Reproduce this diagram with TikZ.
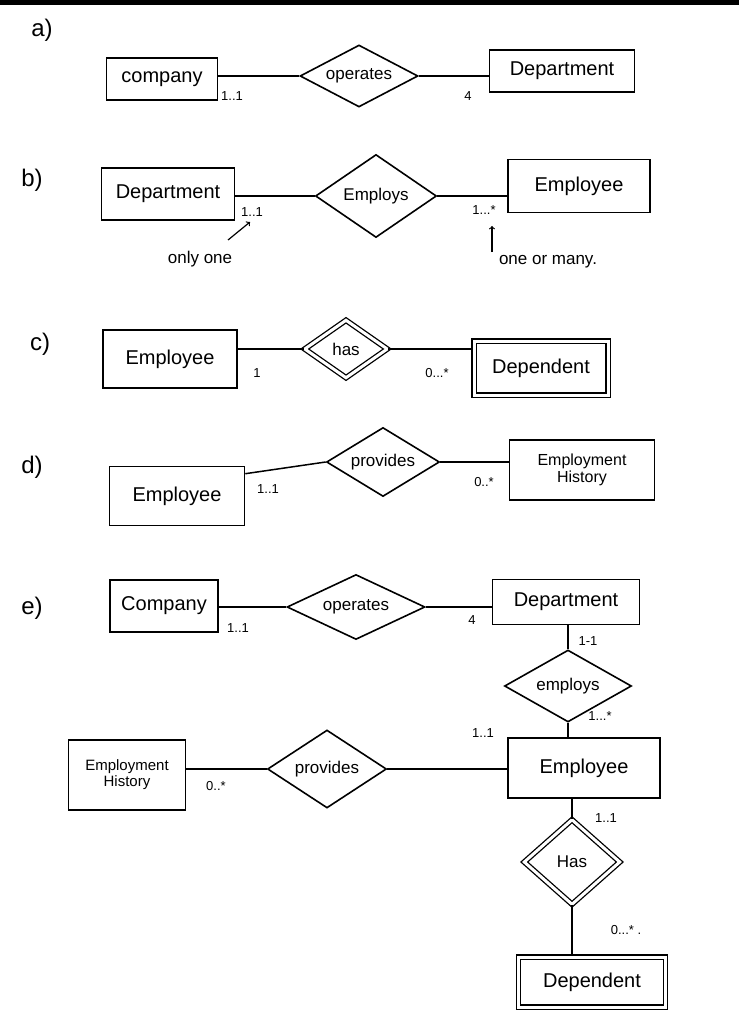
\documentclass[tikz,border=0pt]{standalone}
\usepackage{fontspec}
\setmainfont{Liberation Sans}
\usetikzlibrary{shapes.geometric}
\begin{document}
\begin{tikzpicture}[x=1pt,y=-1pt,
  ent/.style={draw, line width=1.6pt, inner sep=0pt, align=center, font=\fontsize{20}{22}\selectfont},
  rel/.style={draw, diamond, aspect=2, line width=1.6pt, inner sep=0pt, font=\fontsize{17}{19}\selectfont},
  wk/.style={double, double distance=3pt, line width=1.3pt},
  lab/.style={inner sep=1pt, font=\fontsize{13}{15}\selectfont},
  note/.style={inner sep=1pt, font=\fontsize{17}{19}\selectfont},
  part/.style={inner sep=0pt, font=\fontsize{24}{26}\selectfont},
  conn/.style={line width=1.5pt},
  arr/.style={line width=1.2pt, ->}]
\fill[white] (0,0) rectangle (739,1024);
\fill[black] (0,0) rectangle (739,5);

% ---------- a)
\node[part] (pa) at (42,30) {a)};
\node[ent, minimum width=111pt, minimum height=42pt] (aC) at (162,79) {company};
\node[rel, minimum width=118pt, minimum height=62pt] (aR) at (359,76) {operates};
\node[ent, minimum width=145pt, minimum height=42pt] (aD) at (562,71) {Department};
\draw[conn] (aR.west) -- (aR.west -| aC.east);
\draw[conn] (aR.east) -- (aR.east -| aD.west);
\node[lab] (aL1) at (232,96) {1..1};
\node[lab] (aL2) at (468,96) {4};

% ---------- b)
\node[part] (pb) at (32,180) {b)};
\node[ent, minimum width=133pt, minimum height=52pt] (bD) at (168,194) {Department};
\node[rel, minimum width=121pt, minimum height=83pt] (bR) at (376,196) {Employs};
\node[ent, minimum width=142pt, minimum height=53pt] (bE) at (579,186) {Employee};
\draw[conn] (bR.west) -- (bR.west -| bD.east);
\draw[conn] (bR.east) -- (bR.east -| bE.west);
\node[lab] (bL1) at (252,212) {1..1};
\node[lab] (bL2) at (484,210) {1...*};
\node[note] (bN1) at (200,259) {only one};
\node[note] (bN2) at (548,262) {one or many.};
\coordinate (bA1s) at (228,240);
\coordinate (bA1e) at (250,222);
\draw[arr] (bA1s) -- (bA1e);
\coordinate (bA2s) at (492,252);
\coordinate (bA2e) at (492,226);
\draw[arr] (bA2s) -- (bA2e);

% ---------- c)
\node[part] (pc) at (40,344) {c)};
\node[ent, minimum width=134pt, minimum height=58pt] (cE) at (170,359) {Employee};
\node[rel, wk, minimum width=83pt, minimum height=58pt] (cR) at (346,349) {has};
\node[ent, wk, minimum width=134pt, minimum height=54pt] (cD) at (541,368) {Dependent};
\draw[conn] (cR.west) -- (cR.west -| cE.east);
\draw[conn] (cR.east) -- (cR.east -| cD.west);
\node[lab] (cL1) at (257,373) {1};
\node[lab] (cL2) at (437,373) {0...*};

% ---------- d)
\node[part] (pd) at (32,467) {d)};
\node[ent, minimum width=135pt, minimum height=59pt] (dE) at (177,496) {Employee};
\node[rel, minimum width=113pt, minimum height=69pt] (dR) at (383,462) {provides};
\node[ent, minimum width=145pt, minimum height=60pt, font=\fontsize{16}{17}\selectfont] (dH) at (582,470) {Employment\\History};
\draw[conn] (dE.north east) ++(0,8) coordinate (dEs) -- (dR.west);
\draw[conn] (dR.east) -- (dR.east -| dH.west);
\node[lab] (dL1) at (268,489) {1..1};
\node[lab] (dL2) at (484,482) {0..*};

% ---------- e)
\node[part] (pe) at (32,608) {e)};
\node[ent, minimum width=108pt, minimum height=52pt] (eC) at (164,606) {Company};
\node[rel, minimum width=138pt, minimum height=65pt] (eR1) at (356,607) {operates};
\node[ent, minimum width=147pt, minimum height=45pt] (eD) at (566,602) {Department};
\draw[conn] (eR1.west) -- (eR1.west -| eC.east);
\draw[conn] (eR1.east) -- (eR1.east -| eD.west);
\node[lab] (eL1) at (238,628) {1..1};
\node[lab] (eL2) at (472,620) {4};

\node[rel, minimum width=127pt, minimum height=72pt] (eR2) at (568,686) {employs};
\draw[conn] (eR2.north) -- (eR2.north |- eD.south);
\node[lab] (eL3) at (588,641) {1-1};

\node[ent, minimum width=152pt, minimum height=60pt] (eE) at (584,768) {Employee};
\draw[conn] (eR2.south) -- (eR2.south |- eE.north);
\node[lab] (eL4) at (600,716) {1...*};

\node[rel, minimum width=119pt, minimum height=78pt] (eR3) at (327,769) {provides};
\node[ent, minimum width=117pt, minimum height=70pt, font=\fontsize{15}{16}\selectfont] (eH) at (127,775) {Employment\\History};
\draw[conn] (eR3.east) -- (eR3.east -| eE.west);
\draw[conn] (eR3.west) -- (eR3.west -| eH.east);
\node[lab] (eL5) at (483,733) {1..1};
\node[lab] (eL6) at (216,786) {0..*};

\node[rel, wk, minimum width=96pt, minimum height=85pt] (eR4) at (572,862) {Has};
\draw[conn] (eR4.north) -- (eR4.north |- eE.south);
\node[lab] (eL7) at (606,818) {1..1};

\node[ent, wk, minimum width=147pt, minimum height=50pt] (eDp) at (592,982) {Dependent};
\draw[conn] (eR4.south) -- (eR4.south |- eDp.north);
\node[lab] (eL8) at (626,930) {0...* .};
\end{tikzpicture}
\end{document}
